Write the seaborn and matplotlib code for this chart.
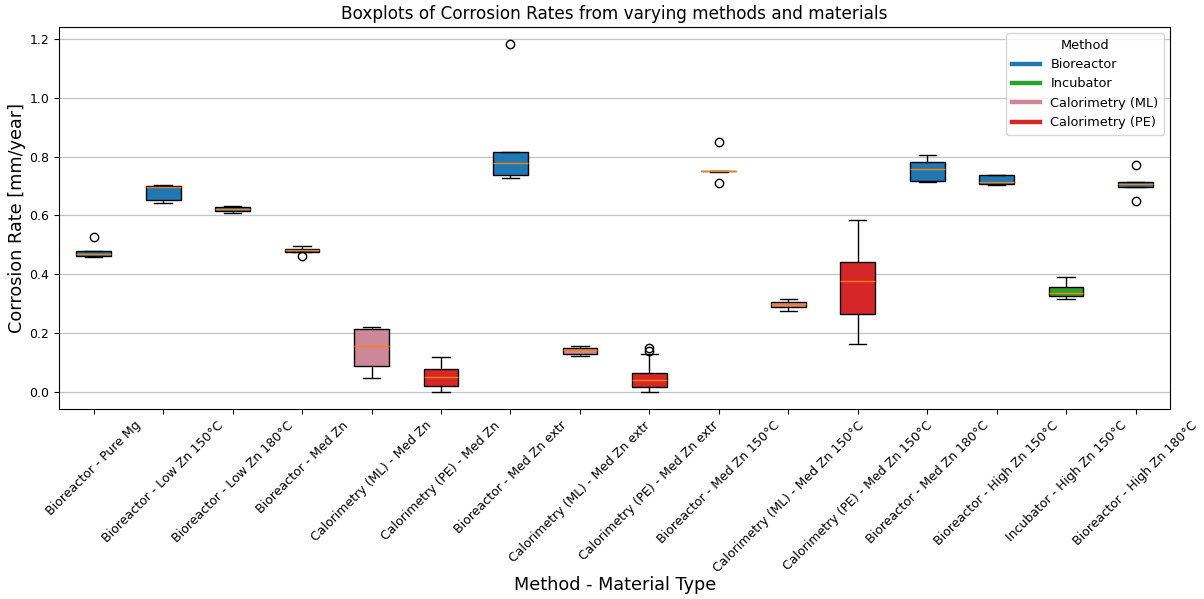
import matplotlib
matplotlib.use("Agg")
import matplotlib.pyplot as plt
from matplotlib.lines import Line2D
import pandas as pd
import seaborn as sns

# Measurement methods and their colours
methods = ["Bioreactor", "Incubator", "Calorimetry (ML)", "Calorimetry (PE)"]
method_colors = ["#1f77b4", "#2ca02c", "#cc8899", "#d62728"]

# Method - material groups, in plotting order
categories = [
    "Bioreactor - Pure Mg",
    "Bioreactor - Low Zn 150°C",
    "Bioreactor - Low Zn 180°C",
    "Bioreactor - Med Zn",
    "Calorimetry (ML) - Med Zn",
    "Calorimetry (PE) - Med Zn",
    "Bioreactor - Med Zn extr",
    "Calorimetry (ML) - Med Zn extr",
    "Calorimetry (PE) - Med Zn extr",
    "Bioreactor - Med Zn 150°C",
    "Calorimetry (ML) - Med Zn 150°C",
    "Calorimetry (PE) - Med Zn 150°C",
    "Bioreactor - Med Zn 180°C",
    "Bioreactor - High Zn 150°C",
    "Incubator - High Zn 150°C",
    "Bioreactor - High Zn 180°C",
]
category_method = [c.split(" - ")[0] for c in categories]

# Corrosion rates [mm/year] per group
bio_pure_mg = [0.458, 0.459, 0.461, 0.463, 0.467, 0.470, 0.478, 0.478, 0.526]
bio_low_zn_150 = [0.642, 0.651, 0.697, 0.6995, 0.703]
bio_low_zn_180 = [0.609, 0.615, 0.621, 0.628, 0.632]
bio_med_zn = [0.461, 0.477, 0.477, 0.479, 0.481, 0.483, 0.486, 0.490, 0.495]
cml_med_zn = [0.048, 0.086, 0.154, 0.212, 0.220]
cpe_med_zn = [0.0, 0.020, 0.049, 0.077, 0.118]
bio_med_zn_extr = [0.728, 0.732, 0.737, 0.760, 0.777, 0.800, 0.815, 0.815, 1.182]
cml_med_zn_extr = [0.120, 0.130, 0.141, 0.149, 0.155]
cpe_med_zn_extr = [0.0, 0.005, 0.012, 0.017, 0.025, 0.031, 0.0385,
                   0.045, 0.055, 0.0625, 0.129, 0.137, 0.148]
bio_med_zn_150 = [0.711, 0.749, 0.750, 0.750, 0.750, 0.751, 0.851]
cml_med_zn_150 = [0.275, 0.288, 0.297, 0.307, 0.316]
cpe_med_zn_150 = [0.162, 0.266, 0.378, 0.443, 0.584]
bio_med_zn_180 = [0.712, 0.717, 0.759, 0.782, 0.807]
bio_high_zn_150 = [0.704, 0.708, 0.714, 0.739, 0.739]
inc_high_zn_150 = [0.315, 0.325, 0.3375, 0.358, 0.392]
bio_high_zn_180 = [0.650, 0.697, 0.698, 0.703, 0.708, 0.711, 0.714, 0.715, 0.772]

samples = [
    bio_pure_mg, bio_low_zn_150, bio_low_zn_180, bio_med_zn,
    cml_med_zn, cpe_med_zn, bio_med_zn_extr, cml_med_zn_extr,
    cpe_med_zn_extr, bio_med_zn_150, cml_med_zn_150, cpe_med_zn_150,
    bio_med_zn_180, bio_high_zn_150, inc_high_zn_150, bio_high_zn_180,
]

rows = []
for cat, meth, vals in zip(categories, category_method, samples):
    for v in vals:
        rows.append({"group": cat, "method": meth, "rate": v})
df = pd.DataFrame(rows)

fig = plt.figure(figsize=(12.04, 5.99), dpi=100)
ax = fig.add_subplot(111)
fig.subplots_adjust(left=0.049, right=0.972, top=0.955, bottom=0.317)

palette = dict(zip(methods, method_colors))
sns.boxplot(
    data=df, x="group", y="rate", hue="method",
    order=categories, hue_order=methods, palette=palette,
    dodge=False, width=0.5, saturation=1, linecolor="black", linewidth=1,
    medianprops={"color": "#ff7f0e", "linewidth": 1},
    flierprops={"marker": "o", "markerfacecolor": "none",
                "markeredgecolor": "black", "markersize": 6},
    legend=False, ax=ax,
)

ax.set_axisbelow(True)
ax.yaxis.grid(True, color="#c4c4c4", linewidth=0.9)
ax.xaxis.grid(False)
ax.tick_params(axis="both", labelsize=9.0)
plt.setp(ax.get_xticklabels(), rotation=45)

ax.set_title("Boxplots of Corrosion Rates from varying methods and materials",
             fontsize=12.2)
ax.set_xlabel("Method - Material Type", fontsize=12.7)
ax.set_ylabel("Corrosion Rate [mm/year]", fontsize=12.7)
ax.xaxis.set_label_coords(0.5, -0.437)
ax.yaxis.set_label_coords(-0.0297, 0.5)

handles = [Line2D([0], [0], color=c, lw=3.2) for c in method_colors]
ax.legend(handles, methods, title="Method", loc="upper right",
          fontsize=9.3, title_fontsize=9.3, handlelength=2.2)

fig.savefig("out.png", dpi=100)
